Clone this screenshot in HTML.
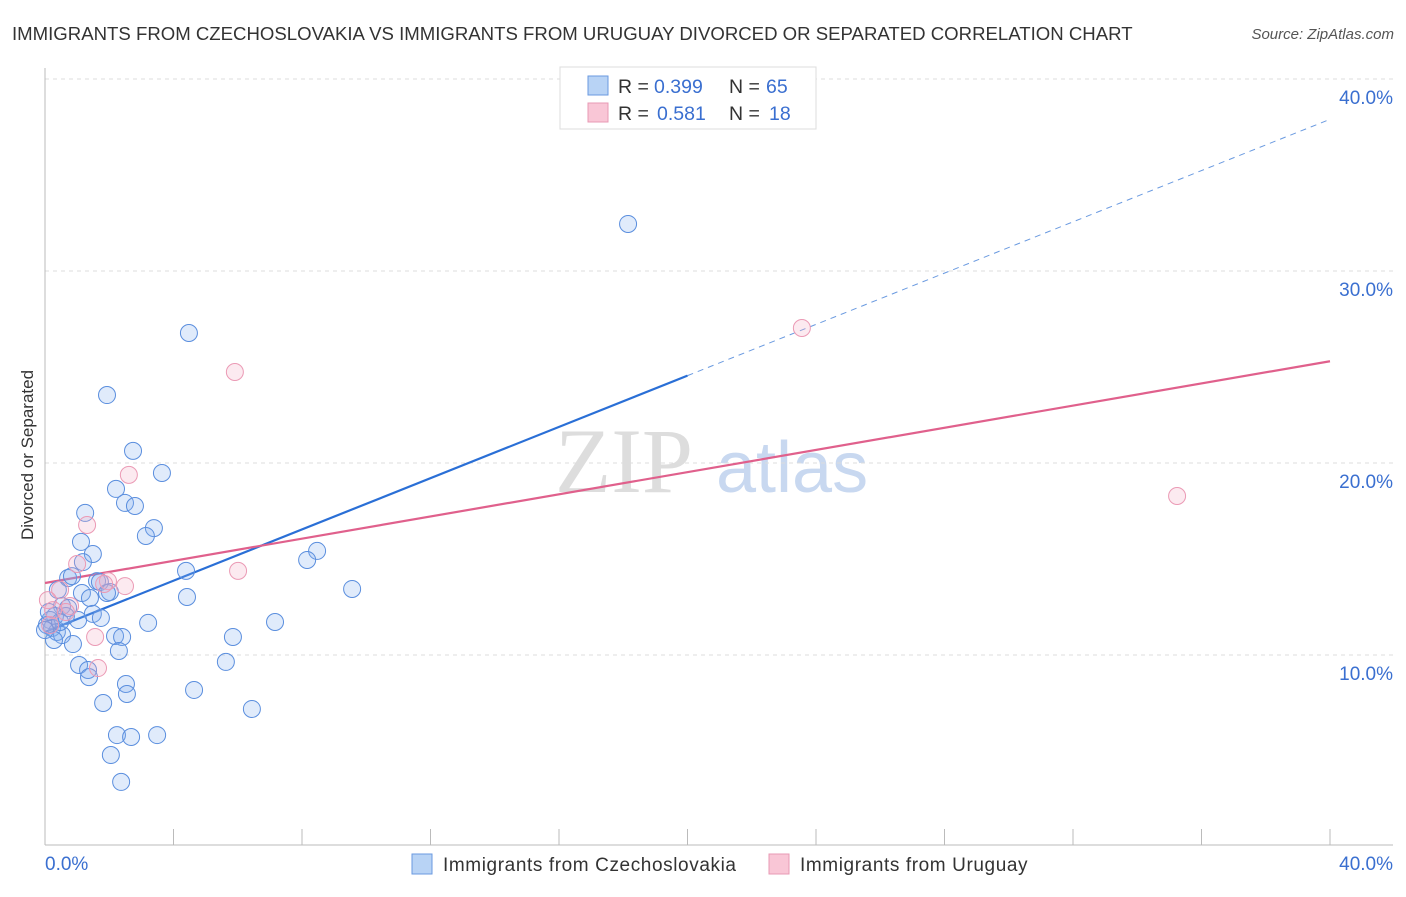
<!DOCTYPE html>
<html><head><meta charset="utf-8"><style>
body{margin:0;background:#fff;font-family:"Liberation Sans",sans-serif;}
</style></head><body>
<svg id="chart" width="1406" height="892" xmlns="http://www.w3.org/2000/svg" style="font-family:'Liberation Sans',sans-serif">
<text x="12" y="40" font-size="18.6" fill="#333">IMMIGRANTS FROM CZECHOSLOVAKIA VS IMMIGRANTS FROM URUGUAY DIVORCED OR SEPARATED CORRELATION CHART</text>
<text x="1394" y="39" font-size="15" fill="#555" text-anchor="end" font-style="italic">Source: ZipAtlas.com</text>
<text x="33" y="455" font-size="17" fill="#333" text-anchor="middle" transform="rotate(-90 33 455)">Divorced or Separated</text>
<g><text x="555" y="492" font-size="92" fill="#ddd" font-family="Liberation Serif,serif">ZIP</text><text x="716" y="492" font-size="72" fill="#c8d8f0">atlas</text></g>
<g id="grid"></g><g id="axes"></g><g id="lines"></g><g id="pts"></g>
<g>
<rect x="560" y="67" width="256" height="62" fill="#fff" stroke="#ddd"/>
<rect x="588" y="76" width="20" height="19" fill="#b8d3f5" stroke="#6a9ae0"/>
<rect x="588" y="103" width="20" height="19" fill="#f9c6d6" stroke="#e89ab4"/>
<text x="618" y="93" font-size="19.5" fill="#333">R =</text><text x="654" y="93" font-size="19.5" fill="#3a6fd0">0.399</text>
<text x="729" y="93" font-size="19.5" fill="#333">N =</text><text x="766" y="93" font-size="19.5" fill="#3a6fd0">65</text>
<text x="618" y="120" font-size="19.5" fill="#333">R =</text><text x="657" y="120" font-size="19.5" fill="#3a6fd0">0.581</text>
<text x="729" y="120" font-size="19.5" fill="#333">N =</text><text x="769" y="120" font-size="19.5" fill="#3a6fd0">18</text>
</g>
<g>
<rect x="412" y="854" width="20" height="20" fill="#b8d3f5" stroke="#6a9ae0"/>
<text x="443" y="871" font-size="19" letter-spacing="0.6" fill="#333">Immigrants from Czechoslovakia</text>
<rect x="769" y="854" width="20" height="20" fill="#f9c6d6" stroke="#e89ab4"/>
<text x="800" y="871" font-size="19" letter-spacing="0.6" fill="#333">Immigrants from Uruguay</text>
</g>
</svg>
<script>
const blueX=[18.15,4.48,1.93,2.74,3.64,2.21,2.49,2.80,1.25,3.39,3.14,1.12,1.49,1.18,8.47,8.16,4.39,0.72,0.84,1.62,1.71,2.02,1.93,9.56,4.42,0.40,1.15,1.40,0.53,0.72,1.49,1.74,1.03,0.65,0.31,0.16,3.21,7.16,0.22,0.37,0.53,0.28,2.18,2.40,5.85,0.87,2.30,5.63,1.06,1.34,1.37,2.52,2.55,4.64,1.81,6.44,2.24,2.68,3.49,2.05,2.37,0.06,0.12,0.47,0.0];
const blueY=[32.45,26.77,23.54,20.63,19.48,18.65,17.92,17.76,17.40,16.61,16.20,15.89,15.26,14.84,15.42,14.95,14.38,14.01,14.11,13.85,13.80,13.28,13.23,13.44,13.02,13.39,13.23,12.97,12.55,12.45,12.14,11.93,11.82,12.03,12.03,11.82,11.67,11.72,11.41,11.20,11.04,10.78,10.99,10.94,10.94,10.57,10.21,9.64,9.48,9.22,8.85,8.49,7.97,8.18,7.50,7.19,5.83,5.73,5.83,4.79,3.39,11.56,12.24,11.72,11.30];
const pinkX=[23.56,5.91,35.24,2.61,1.31,6.01,1.00,1.96,2.49,1.84,0.47,0.78,0.09,0.25,1.56,1.65,0.16,0.65];
const pinkY=[27.03,24.74,18.28,19.38,16.77,14.38,14.74,13.85,13.59,13.70,13.39,12.55,12.86,12.34,10.94,9.32,11.56,12.24];
const yTicks=[10,20,30,40];
const xTicks=[0,4,8,12,16,20,24,28,32,36,40];
const blueTrend=[11.2,37.9];
const pinkTrend=[13.75,25.3];
const NS='http://www.w3.org/2000/svg';
const X=v=>45+v*32.125, Y=v=>847-v*19.2;
function mk(p,t,a){const e=document.createElementNS(NS,t);for(const k in a)e.setAttribute(k,a[k]);p.appendChild(e);return e;}
const grid=document.getElementById('grid'),axes=document.getElementById('axes'),lines=document.getElementById('lines'),pts=document.getElementById('pts');
yTicks.forEach(t=>{const l=mk(grid,'line',{x1:45,x2:1393,y1:Y(t),y2:Y(t),stroke:'#ddd','stroke-dasharray':'4,4'});


const tx=mk(axes,'text',{x:1393,y:Y(t)+25,'font-size':19,fill:'#3a6fd0','text-anchor':'end'});tx.textContent=t.toFixed(1)+'%';

});
mk(axes,'line',{x1:45,x2:45,y1:68,y2:845,stroke:'#bbb'});
mk(axes,'line',{x1:45,x2:1393,y1:845,y2:845,stroke:'#bbb'});
xTicks.forEach(t=>{const l=mk(axes,'line',{x1:X(t),x2:X(t),y1:829,y2:845,stroke:'#bbb'});

});
[[0,'start',45],[40,'end',1393]].forEach(([v,a,x])=>{const tx=mk(axes,'text',{x:x,y:870,'font-size':19,fill:'#3a6fd0','text-anchor':a});tx.textContent=v.toFixed(1)+'%';

});
const bAt=v=>blueTrend[0]+(blueTrend[1]-blueTrend[0])*v/40;
let l1=mk(lines,'line',{x1:X(0),y1:Y(bAt(0)),x2:X(20),y2:Y(bAt(20)),stroke:'#2a6fd6','stroke-width':2.2});


let l2=mk(lines,'line',{x1:X(20),y1:Y(bAt(20)),x2:X(40),y2:Y(bAt(40)),stroke:'#6a9ae0','stroke-width':1,'stroke-dasharray':'6,5'});


let l3=mk(lines,'line',{x1:X(0),y1:Y(pinkTrend[0]),x2:X(40),y2:Y(pinkTrend[1]),stroke:'#e0608c','stroke-width':2.2});


blueX.forEach((v,i)=>{const c=mk(pts,'circle',{cx:X(v),cy:Y(blueY[i]),r:8.5,fill:'rgba(130,175,240,0.25)',stroke:'#5a8ede','stroke-width':1});

});
pinkX.forEach((v,i)=>{const c=mk(pts,'circle',{cx:X(v),cy:Y(pinkY[i]),r:8.5,fill:'rgba(245,170,195,0.25)',stroke:'#eb9ab5','stroke-width':1});

});
</script>
</body></html>
